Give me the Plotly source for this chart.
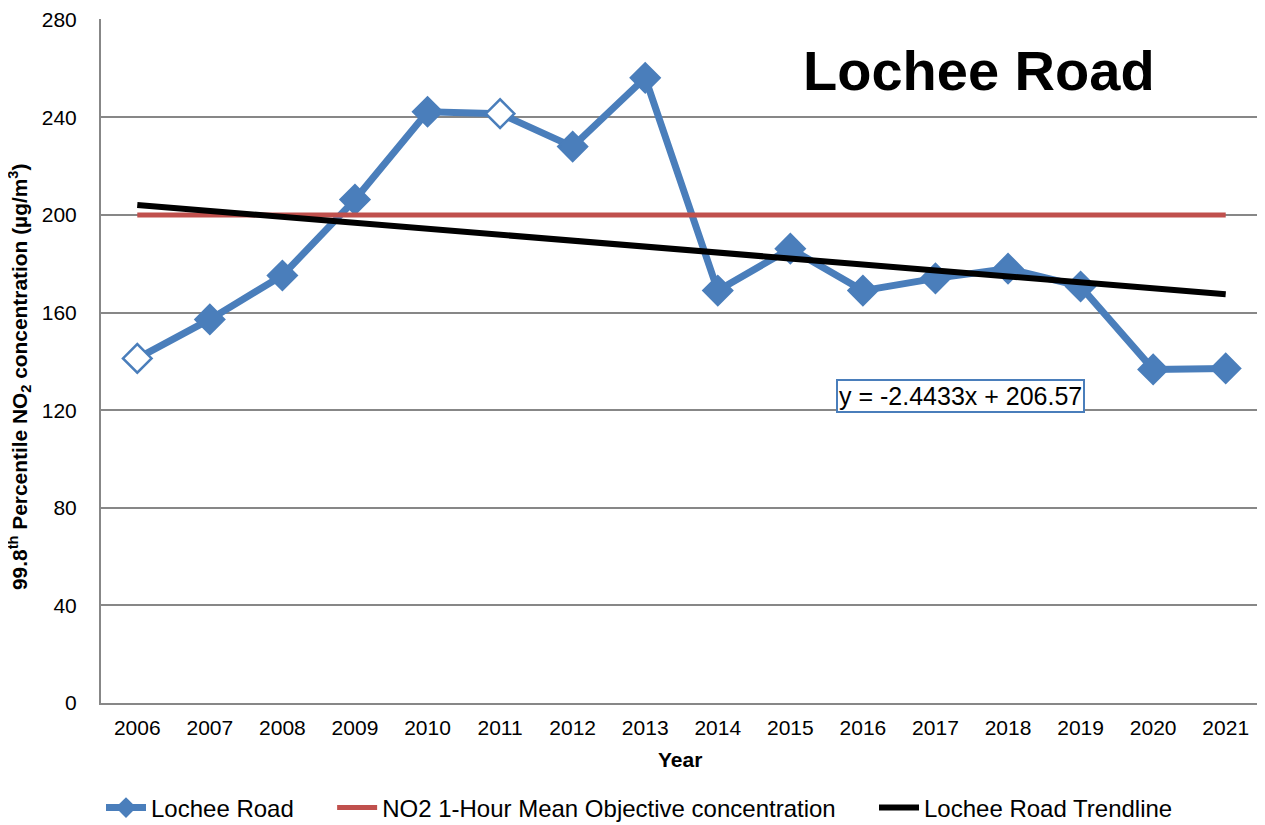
import plotly.graph_objects as go

# data
years = ["2006", "2007", "2008", "2009", "2010", "2011", "2012", "2013",
         "2014", "2015", "2016", "2017", "2018", "2019", "2020", "2021"]
lochee = [141.2, 157.2, 175.2, 206.3, 242.3, 241.5, 228.0, 256.2,
          169.0, 186.2, 169.0, 174.0, 178.0, 170.7, 136.7, 137.1]
objective = [200, 200, 200, 200, 200, 200, 200, 200,
             200, 200, 200, 200, 200, 200, 200, 200]
trend_years = ["2006", "2021"]
trend_vals = [204.1, 167.5]
hollow_years = ["2006", "2011"]
y_ticks = [0, 40, 80, 120, 160, 200, 240, 280]

blue = "#4A7EBB"
red = "#C0504D"
grid = "#878787"
font = "Liberation Sans, Arial, sans-serif"
pad = "\u00a0" * 5  # extra room between legend entries

marker_fill = ["white" if y in hollow_years else blue for y in years]

fig = go.Figure()

fig.add_trace(go.Scatter(
    x=years, y=lochee, name="Lochee Road", mode="lines+markers",
    line=dict(color=blue, width=7), showlegend=False,
    marker=dict(symbol="diamond", size=22, color=marker_fill,
                line=dict(color=blue, width=2.5)),
))
# legend-only entry so the legend shows a filled diamond
fig.add_trace(go.Scatter(
    x=[None], y=[None], name="Lochee Road" + pad, mode="lines+markers",
    line=dict(color=blue, width=7),
    marker=dict(symbol="diamond", size=22, color=blue),
))
fig.add_trace(go.Scatter(
    x=years, y=objective, name="NO2 1-Hour Mean Objective concentration" + pad,
    mode="lines", line=dict(color=red, width=5),
))
fig.add_trace(go.Scatter(
    x=trend_years, y=trend_vals, name="Lochee Road Trendline",
    mode="lines", line=dict(color="black", width=6),
))

fig.update_layout(
    width=1257, height=817,
    margin=dict(l=93, r=3, t=11, b=122, autoexpand=False),
    paper_bgcolor="white", plot_bgcolor="white",
    font=dict(family=font, size=21, color="black"),
    showlegend=True,
    legend=dict(orientation="h", x=0.0, xanchor="left", y=-0.1535,
                yanchor="middle", font=dict(size=24), itemwidth=40,
                tracegroupgap=0),
    annotations=[
        dict(text="<b>Lochee Road</b>", xref="paper", yref="paper",
             x=0.756, y=0.925, xanchor="center", yanchor="middle",
             showarrow=False, font=dict(size=56)),
        dict(text="y = -2.4433x + 206.57", xref="paper", yref="paper",
             x=0.740, y=0.449, xanchor="center", yanchor="middle",
             showarrow=False, font=dict(size=25),
             bordercolor=blue, borderwidth=2, borderpad=1, bgcolor="white"),
        dict(text="<b>Year</b>", xref="paper", yref="paper",
             x=0.4987, y=-0.082, xanchor="center", yanchor="middle",
             showarrow=False, font=dict(size=21)),
        dict(text="<b>99.8<sup>th</sup> Percentile NO<sub>2</sub> concentration (µg/m<sup>3</sup>)</b>",
             xref="paper", yref="paper", x=-0.0706, y=0.4766,
             xanchor="center", yanchor="middle",
             textangle=-90, showarrow=False, font=dict(size=20.9)),
    ],
)

fig.update_xaxes(
    type="category", categoryorder="array", categoryarray=years,
    range=[-0.5, 15.5], showgrid=False, showline=True, linecolor=grid,
    linewidth=2, ticks="", ticklabelstandoff=5, zeroline=False,
)
fig.update_yaxes(
    range=[0, 280.3], tickmode="array", tickvals=y_ticks,
    ticklabeloverflow="allow",
    showgrid=True, gridcolor=grid, gridwidth=1.5,
    showline=True, linecolor=grid, linewidth=2, ticks="",
    ticklabelstandoff=18, zeroline=False,
)

fig.write_html("out.html")
